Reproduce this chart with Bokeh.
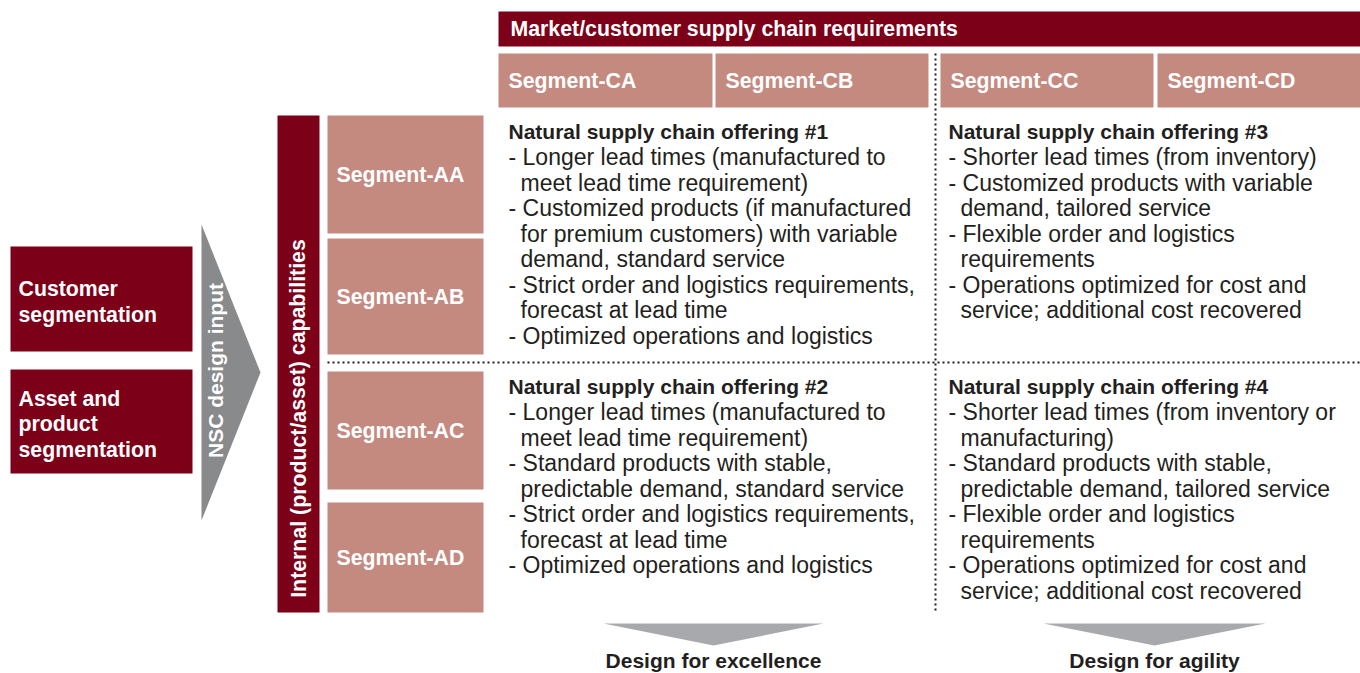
from bokeh.plotting import figure
from bokeh.models import Range1d
from bokeh.core.properties import value
from bokeh.embed import file_html
from bokeh.resources import INLINE

# ---------------- data ----------------
header_title = "Market/customer supply chain requirements"
col_segments = ["Segment-CA", "Segment-CB", "Segment-CC", "Segment-CD"]
row_segments = ["Segment-AA", "Segment-AB", "Segment-AC", "Segment-AD"]
left_inputs = ["Customer\nsegmentation", "Asset and\nproduct\nsegmentation"]
input_arrow_label = "NSC design input"
row_axis_label = "Internal (product/asset) capabilities"
offer_titles = ["Natural supply chain offering #1", "Natural supply chain offering #3",
                "Natural supply chain offering #2", "Natural supply chain offering #4"]
offer_items = [
    [["Longer lead times (manufactured to", "meet lead time requirement)"],
     ["Customized products (if manufactured", "for premium customers) with variable", "demand, standard service"],
     ["Strict order and logistics requirements,", "forecast at lead time"],
     ["Optimized operations and logistics"]],
    [["Shorter lead times (from inventory)"],
     ["Customized products with variable", "demand, tailored service"],
     ["Flexible order and logistics", "requirements"],
     ["Operations optimized for cost and", "service; additional cost recovered"]],
    [["Longer lead times (manufactured to", "meet lead time requirement)"],
     ["Standard products with stable,", "predictable demand, standard service"],
     ["Strict order and logistics requirements,", "forecast at lead time"],
     ["Optimized operations and logistics"]],
    [["Shorter lead times (from inventory or", "manufacturing)"],
     ["Standard products with stable,", "predictable demand, tailored service"],
     ["Flexible order and logistics", "requirements"],
     ["Operations optimized for cost and", "service; additional cost recovered"]],
]
outcomes = ["Design for excellence", "Design for agility"]

# ---------------- layout ----------------
DARK = "#7D0019"
PINK = "#C48A80"
GRAY = "#898A8C"
LGRAY = "#A7A9AC"
TXT = "#231F20"
FONT = "Liberation Sans"
W, H = 1360, 673

p = figure(width=W, height=H, output_backend="svg", toolbar_location=None,
           x_range=Range1d(0, W), y_range=Range1d(H, 0), min_border=0)
p.axis.visible = False
p.grid.visible = False
p.outline_line_color = None
p.background_fill_color = "white"
p.border_fill_color = "white"

def txt(x, y, t, size, color="white", bold=True, align="left", angle=0, lh=1.2):
    p.text(x=[x], y=[y], text=[t], text_font=value(FONT), text_font_size=f"{size}px",
           text_font_style="bold" if bold else "normal", text_color=color,
           text_align=align, text_baseline="middle", angle=angle, text_line_height=lh)

# header
p.quad(left=[498], right=[1360], top=[11], bottom=[46], fill_color=DARK, line_color=None)
txt(510, 28.5, header_title, 21.3)

# column segments
col_l = [498, 715, 940, 1157]
col_r = [712, 928, 1153, 1360]
p.quad(left=col_l, right=col_r, top=[53] * 4, bottom=[107] * 4, fill_color=PINK, line_color=None)
for i, s in enumerate(col_segments):
    txt(col_l[i] + 10, 80, s, 21.3)

# row axis bar
p.quad(left=[277], right=[319], top=[115], bottom=[612], fill_color=DARK, line_color=None)
txt(298, 418, row_axis_label, 21.3, angle=1.5708, align="center")

# row segments
row_t = [115, 238, 371, 502]
row_b = [233, 354, 489, 612]
p.quad(left=[327] * 4, right=[483] * 4, top=row_t, bottom=row_b, fill_color=PINK, line_color=None)
for i, s in enumerate(row_segments):
    txt(336, (row_t[i] + row_b[i]) / 2, s, 21.3)

# left inputs
in_t = [246, 369]
in_b = [351, 473]
p.quad(left=[10] * 2, right=[192] * 2, top=in_t, bottom=in_b, fill_color=DARK, line_color=None)
for i, s in enumerate(left_inputs):
    txt(18, (in_t[i] + in_b[i]) / 2 + 3, s, 21.3, lh=1.075)

# input arrow (triangle)
p.patch(x=[201, 260, 201], y=[224, 372, 520], fill_color=GRAY, line_color=None)
txt(215, 370, input_arrow_label, 21, angle=1.5708, align="center")

# dotted dividers
p.line(x=[935, 935], y=[53, 613], line_color=TXT, line_width=2, line_dash="2 3")
p.line(x=[327, 1360], y=[362, 362], line_color=TXT, line_width=2, line_dash="2 3")

# offering text blocks
block_x = [508, 948, 508, 948]
block_y = [131, 131, 386, 386]
LH = 25.5
for b in range(4):
    txt(block_x[b], block_y[b], offer_titles[b], 21, color=TXT)
    k = 1
    for item in offer_items[b]:
        for j, line in enumerate(item):
            y = block_y[b] + k * LH
            if j == 0:
                txt(block_x[b], y, "- " + line, 23, color=TXT, bold=False)
            else:
                txt(block_x[b] + 12, y, line, 23, color=TXT, bold=False)
            k += 1

# outcome arrows
out_l = [603, 1043]
out_r = [823, 1265]
for i, s in enumerate(outcomes):
    cx = (out_l[i] + out_r[i]) / 2
    p.patch(x=[out_l[i], out_r[i], cx], y=[623, 623, 645], fill_color=LGRAY, line_color=None)
    txt(cx, 660, s, 21, color=TXT, align="center")

open("out.html", "w").write(file_html(p, INLINE))
